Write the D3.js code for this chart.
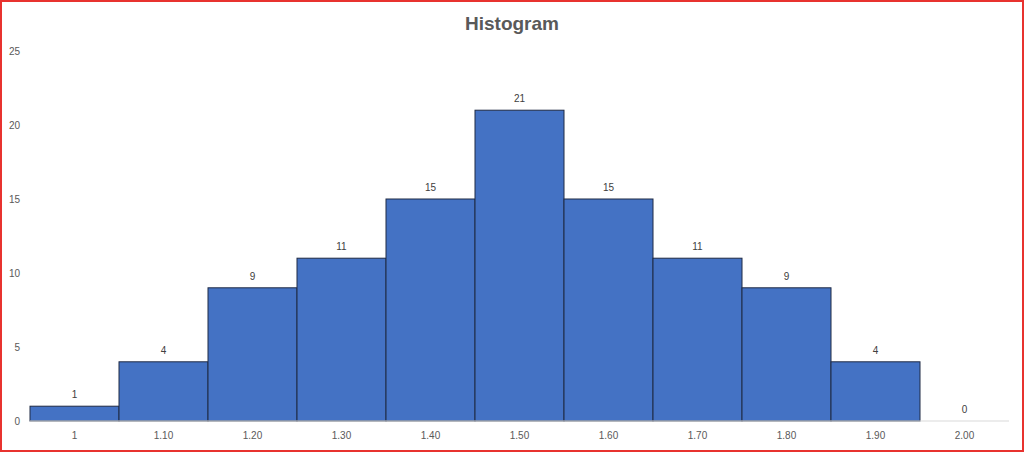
<!DOCTYPE html>
<html>
<head>
<meta charset="utf-8">
<script src="https://cdn.jsdelivr.net/npm/d3@7"></script>
<style>
  body { margin: 0; background: #fff; }
  #chart { width: 1024px; height: 453px; }
  text { font-family: "Liberation Sans", "DejaVu Sans", sans-serif; }
</style>
</head>
<body>
<div id="chart"></div>
<script>
var bins = ["1", "1.10", "1.20", "1.30", "1.40", "1.50", "1.60", "1.70", "1.80", "1.90", "2.00"];
var counts = [1, 4, 9, 11, 15, 21, 15, 11, 9, 4, 0];
var yTicks = [0, 5, 10, 15, 20, 25];

var width = 1024, height = 453;
var margin = {top: 51, left: 30, right: 15, bottom: 32};

var svg = d3.select("#chart")
    .append("svg")
    .attr("width", width)
    .attr("height", height);

// outer red frame
svg.append("rect")
    .attr("x", 1).attr("y", 1)
    .attr("width", width - 2).attr("height", height - 3)
    .attr("fill", "#fff")
    .attr("stroke", "#e8322f")
    .attr("stroke-width", 2);

var xScale = d3.scaleBand()
    .domain(bins)
    .range([margin.left, width - margin.right])
    .padding(0);

var yScale = d3.scaleLinear()
    .domain([0, 25])
    .range([height - margin.bottom, margin.top]);

// y tick labels only (no axis line)
svg.append("g")
    .selectAll("text")
    .data(yTicks)
    .enter()
    .append("text")
        .attr("x", 20)
        .attr("y", function(d) { return yScale(d); })
        .attr("dy", "0.35em")
        .attr("text-anchor", "end")
        .attr("font-size", 10)
        .attr("fill", "#595959")
        .text(function(d) { return d; });

svg.selectAll("rect.bar")
    .data(counts)
    .enter()
    .append("rect")
        .attr("class", "bar")
        .attr("x", function(d, i) { return xScale(bins[i]); })
        .attr("y", function(d) { return yScale(d); })
        .attr("width", xScale.bandwidth())
        .attr("height", function(d) { return yScale(0) - yScale(d); })
        .attr("fill", "#4472c4")
        .attr("stroke", "#1f2a44")
        .attr("stroke-width", 1)
        .style("display", function(d) { return d > 0 ? null : "none"; });

// x axis line
svg.append("line")
    .attr("x1", margin.left).attr("x2", width - margin.right)
    .attr("y1", yScale(0)).attr("y2", yScale(0))
    .attr("stroke", "#d9d9d9");

var xAxis = svg.append("g")
    .attr("transform", `translate(0, ${yScale(0)})`)
    .call(d3.axisBottom(xScale).tickSize(0).tickPadding(11));
xAxis.select(".domain").remove();
xAxis.selectAll("text")
    .attr("font-size", 10)
    .attr("font-family", "Liberation Sans, sans-serif")
    .attr("fill", "#595959");

// data labels
svg.selectAll("text.lbl")
    .data(counts)
    .enter()
    .append("text")
        .attr("class", "lbl")
        .attr("x", function(d, i) { return xScale(bins[i]) + xScale.bandwidth() / 2; })
        .attr("y", function(d) { return yScale(d) - 8; })
        .attr("text-anchor", "middle")
        .attr("font-size", 10)
        .attr("fill", "#404040")
        .text(function(d) { return d; });

svg.append("text")
    .attr("x", width / 2)
    .attr("y", 30)
    .attr("text-anchor", "middle")
    .attr("font-size", 19)
    .attr("font-weight", "bold")
    .attr("fill", "#595959")
    .text("Histogram");
</script>
</body>
</html>
